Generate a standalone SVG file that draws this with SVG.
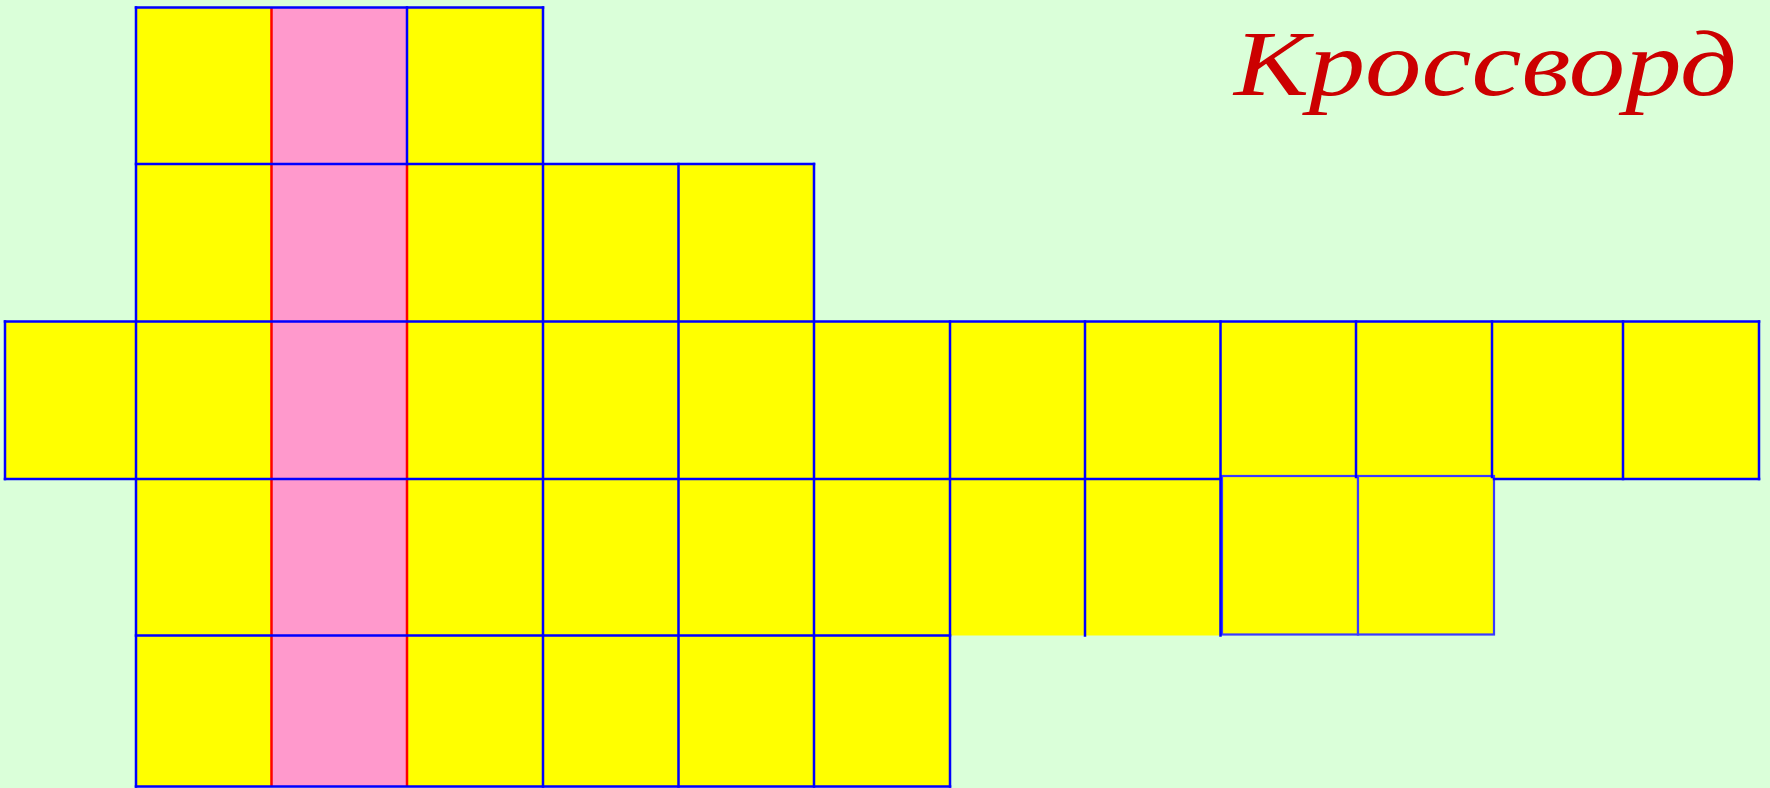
<svg xmlns="http://www.w3.org/2000/svg" width="1770" height="788" viewBox="0 0 1770 788">
  <style>
    .y { fill: #ffff00; }
    .p { fill: #ff99cc; }
    .b { stroke: #0000ff; stroke-width: 2.5; fill: none; stroke-linecap: square; }
    .r { stroke: #ff0000; stroke-width: 2.5; fill: none; }
    .lb { fill: #ffff00; stroke: #3a3aff; stroke-width: 2.2; }
    .title { font-family: "Liberation Serif", "Times New Roman", serif; font-style: italic; font-size: 93px; fill: #cc0000; }
  </style>
  <rect x="0" y="0" width="1770" height="788" fill="#daffd9"/>

  <!-- Row 0 -->
  <g id="r0c1"><rect class="y" x="136" y="7.5" width="135.5" height="156.5"/></g>
  <g id="r0c2"><rect class="p" x="271.5" y="7.5" width="135.5" height="156.5"/></g>
  <g id="r0c3"><rect class="y" x="407" y="7.5" width="136" height="156.5"/></g>

  <!-- Row 1 -->
  <g id="r1c1"><rect class="y" x="136" y="164" width="135.5" height="157.5"/></g>
  <g id="r1c2"><rect class="p" x="271.5" y="164" width="135.5" height="157.5"/></g>
  <g id="r1c3"><rect class="y" x="407" y="164" width="136" height="157.5"/></g>
  <g id="r1c4"><rect class="y" x="543" y="164" width="135.5" height="157.5"/></g>
  <g id="r1c5"><rect class="y" x="678.5" y="164" width="135.5" height="157.5"/></g>

  <!-- Row 2 -->
  <g id="r2c0"><rect class="y" x="5" y="321.5" width="131" height="157.5"/></g>
  <g id="r2c1"><rect class="y" x="136" y="321.5" width="135.5" height="157.5"/></g>
  <g id="r2c2"><rect class="p" x="271.5" y="321.5" width="135.5" height="157.5"/></g>
  <g id="r2c3"><rect class="y" x="407" y="321.5" width="136" height="157.5"/></g>
  <g id="r2c4"><rect class="y" x="543" y="321.5" width="135.5" height="157.5"/></g>
  <g id="r2c5"><rect class="y" x="678.5" y="321.5" width="135.5" height="157.5"/></g>
  <g id="r2c6"><rect class="y" x="814" y="321.5" width="136" height="157.5"/></g>
  <g id="r2c7"><rect class="y" x="950" y="321.5" width="135" height="157.5"/></g>
  <g id="r2c8"><rect class="y" x="1085" y="321.5" width="135.5" height="157.5"/></g>
  <g id="r2c9"><rect class="y" x="1220.5" y="321.5" width="135.5" height="157.5"/></g>
  <g id="r2c10"><rect class="y" x="1356" y="321.5" width="136" height="157.5"/></g>
  <g id="r2c11"><rect class="y" x="1492" y="321.5" width="131" height="157.5"/></g>
  <g id="r2c12"><rect class="y" x="1623" y="321.5" width="136" height="157.5"/></g>

  <!-- Row 3 -->
  <g id="r3c1"><rect class="y" x="136" y="479" width="135.5" height="156.5"/></g>
  <g id="r3c2"><rect class="p" x="271.5" y="479" width="135.5" height="156.5"/></g>
  <g id="r3c3"><rect class="y" x="407" y="479" width="136" height="156.5"/></g>
  <g id="r3c4"><rect class="y" x="543" y="479" width="135.5" height="156.5"/></g>
  <g id="r3c5"><rect class="y" x="678.5" y="479" width="135.5" height="156.5"/></g>
  <g id="r3c6"><rect class="y" x="814" y="479" width="136" height="156.5"/></g>
  <g id="r3c7"><rect class="y" x="950" y="479" width="135" height="156.5"/></g>
  <g id="r3c8"><rect class="y" x="1085" y="479" width="135.5" height="156.5"/></g>
  <g id="r3c9"><rect class="lb" x="1222" y="476" width="136" height="158.5"/></g>
  <g id="r3c10"><rect class="lb" x="1358" y="476" width="136" height="158.5"/></g>

  <!-- Row 4 -->
  <g id="r4c1"><rect class="y" x="136" y="635.5" width="135.5" height="151"/></g>
  <g id="r4c2"><rect class="p" x="271.5" y="635.5" width="135.5" height="151"/></g>
  <g id="r4c3"><rect class="y" x="407" y="635.5" width="136" height="151"/></g>
  <g id="r4c4"><rect class="y" x="543" y="635.5" width="135.5" height="151"/></g>
  <g id="r4c5"><rect class="y" x="678.5" y="635.5" width="135.5" height="151"/></g>
  <g id="r4c6"><rect class="y" x="814" y="635.5" width="136" height="151"/></g>

  <g id="grid-lines">
    <!-- red lines of the pink column -->
    <path class="r" d="M271.5 7.5 V786.5 M407 164 V786.5"/>
    <!-- blue verticals -->
    <path class="b" d="M5 321.5 V479 M136 7.5 V786.5 M407 7.5 V164 M543 7.5 V786.5 M678.5 164 V786.5 M814 164 V786.5 M950 321.5 V786.5 M1085 321.5 V635.5 M1220.5 321.5 V635.5 M1356 321.5 V477 M1492 321.5 V477 M1623 321.5 V479 M1759 321.5 V479"/>
    <!-- blue horizontals -->
    <path class="b" d="M136 7.5 H543 M136 164 H814 M5 321.5 H1759 M5 479 H1220.5 M1494 479 H1759 M136 635.5 H950 M136 786.5 H950"/>
  </g>

  <g id="title">
    <text class="title" x="1234" y="95" textLength="503" lengthAdjust="spacingAndGlyphs">Кроссворд</text>
  </g>
</svg>
